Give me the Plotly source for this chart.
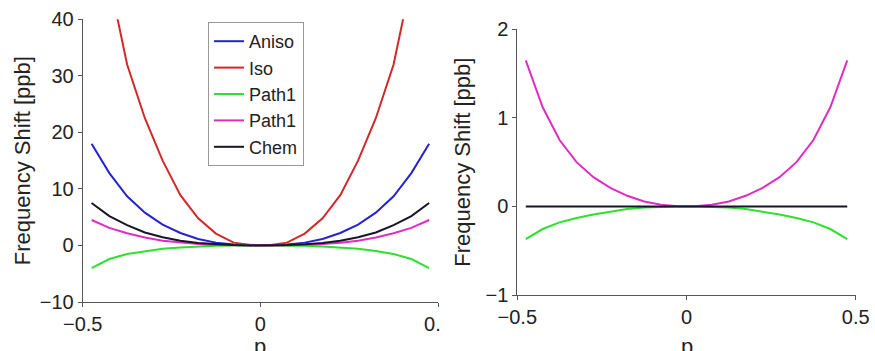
import plotly.graph_objects as go

# ---- data ----
p = [-0.475, -0.425, -0.375, -0.325, -0.275, -0.225, -0.175, -0.125, -0.075, -0.025,
     0.025, 0.075, 0.125, 0.175, 0.225, 0.275, 0.325, 0.375, 0.425, 0.475]

# left panel
aniso = [18.0, 12.8, 8.7, 5.8, 3.7, 2.2, 1.15, 0.5, 0.15, 0.02,
         0.02, 0.15, 0.5, 1.15, 2.2, 3.7, 5.8, 8.7, 12.8, 18.0]
iso = [68.0, 47.0, 32.0, 22.5, 15.0, 8.9, 4.8, 2.1, 0.5, 0.05,
       0.05, 0.5, 2.1, 4.8, 8.9, 15.0, 22.5, 32.0, 47.0, 68.0]
path1_green = [-4.0, -2.4, -1.5, -1.0, -0.6, -0.35, -0.17, -0.07, -0.02, 0.0,
               0.0, -0.02, -0.07, -0.17, -0.35, -0.6, -1.0, -1.5, -2.4, -4.0]
path1_magenta = [4.5, 3.1, 2.15, 1.4, 0.85, 0.5, 0.25, 0.1, 0.03, 0.0,
                 0.0, 0.03, 0.1, 0.25, 0.5, 0.85, 1.4, 2.15, 3.1, 4.5]
chem = [7.5, 5.2, 3.6, 2.3, 1.45, 0.85, 0.45, 0.2, 0.06, 0.01,
        0.01, 0.06, 0.2, 0.45, 0.85, 1.45, 2.3, 3.6, 5.2, 7.5]

# right panel
path1_green_r = [-0.37, -0.255, -0.18, -0.13, -0.09, -0.06, -0.03, -0.012, -0.004, 0.0,
                 0.0, -0.004, -0.012, -0.03, -0.06, -0.09, -0.13, -0.18, -0.255, -0.37]
path1_magenta_r = [1.65, 1.12, 0.75, 0.50, 0.33, 0.21, 0.12, 0.055, 0.02, 0.003,
                   0.003, 0.02, 0.055, 0.12, 0.21, 0.33, 0.50, 0.75, 1.12, 1.65]
chem_r = [0.0, 0.0, 0.0, 0.0, 0.0, 0.0, 0.0, 0.0, 0.0, 0.0,
          0.0, 0.0, 0.0, 0.0, 0.0, 0.0, 0.0, 0.0, 0.0, 0.0]

left_ticks = [-10, 0, 10, 20, 30, 40]
right_ticks = [-1, 0, 1, 2]
x_ticks = [-0.5, 0, 0.5]
x_title = "p"
y_title = "Frequency Shift [ppb]"

# ---- styles ----
C_BLUE = "#2424d0"
C_RED = "#d42828"
C_GREEN = "#2fe02f"
C_MAG = "#e02cc4"
C_BLACK = "#16162a"
FONT = "Liberation Sans, Arial, sans-serif"

W, H = 875, 351
LX = [82.7 / W, 438 / W]
RX = [517.3 / W, 855.7 / W]

fig = go.Figure()
left_series = [("Aniso", aniso, C_BLUE), ("Iso", iso, C_RED),
               ("Path1", path1_green, C_GREEN), ("Path1", path1_magenta, C_MAG),
               ("Chem", chem, C_BLACK)]
for name, ys, col in left_series:
    fig.add_trace(go.Scatter(x=p, y=ys, mode="lines", name=name,
                             line=dict(color=col, width=2), xaxis="x", yaxis="y"))

right_series = [(path1_green_r, C_GREEN), (path1_magenta_r, C_MAG), (chem_r, C_BLACK)]
for ys, col in right_series:
    fig.add_trace(go.Scatter(x=p, y=ys, mode="lines", showlegend=False,
                             line=dict(color=col, width=2), xaxis="x2", yaxis="y2"))

axis_common = dict(showgrid=False, zeroline=False, showline=True, linecolor="#555",
                   linewidth=1, ticks="outside", ticklen=4, tickcolor="#555",
                   tickfont=dict(size=20, color="#222"), mirror=False, automargin=False)

# x-axis titles sit partly below the page edge, as in the reference
x_title_ann = [dict(text=x_title, xref="paper", yref="paper",
                    x=(d[0] + d[1]) / 2, y=(H - 332) / H, xanchor="center", yanchor="top",
                    showarrow=False, font=dict(size=22, color="#222"))
               for d in (LX, RX)]

fig.update_layout(
    template="none",
    width=W, height=H,
    margin=dict(l=0, r=0, t=0, b=0),
    paper_bgcolor="white", plot_bgcolor="white",
    font=dict(family=FONT, color="#222"),
    xaxis=dict(domain=LX, range=[-0.5, 0.5], tickvals=x_ticks, anchor="y", **axis_common),
    yaxis=dict(domain=[(H - 302) / H, (H - 19.3) / H], range=[-10, 40], tickvals=left_ticks,
               anchor="x", title=dict(text=y_title, font=dict(size=22), standoff=3),
               **axis_common),
    xaxis2=dict(domain=RX, range=[-0.5, 0.5], tickvals=x_ticks, anchor="y2", **axis_common),
    yaxis2=dict(domain=[(H - 295) / H, (H - 29.3) / H], range=[-1, 2], tickvals=right_ticks,
                anchor="x2", title=dict(text=y_title, font=dict(size=22), standoff=8),
                **axis_common),
    legend=dict(x=208 / W, y=(H - 22) / H, xanchor="left", yanchor="top",
                bgcolor="white", bordercolor="#999", borderwidth=1,
                font=dict(size=18, color="#222"), tracegroupgap=0),
    annotations=x_title_ann,
    shapes=[dict(type="rect", xref="paper", yref="paper",
                 x0=440.5 / W, x1=470 / W, y0=(H - 340) / H, y1=(H - 307) / H,
                 fillcolor="white", line=dict(width=0), layer="above")],
)

fig.write_html(
    "out.html",
    config={"displayModeBar": False},
    post_script="document.body.style.margin='0';document.body.style.overflow='hidden';",
)
